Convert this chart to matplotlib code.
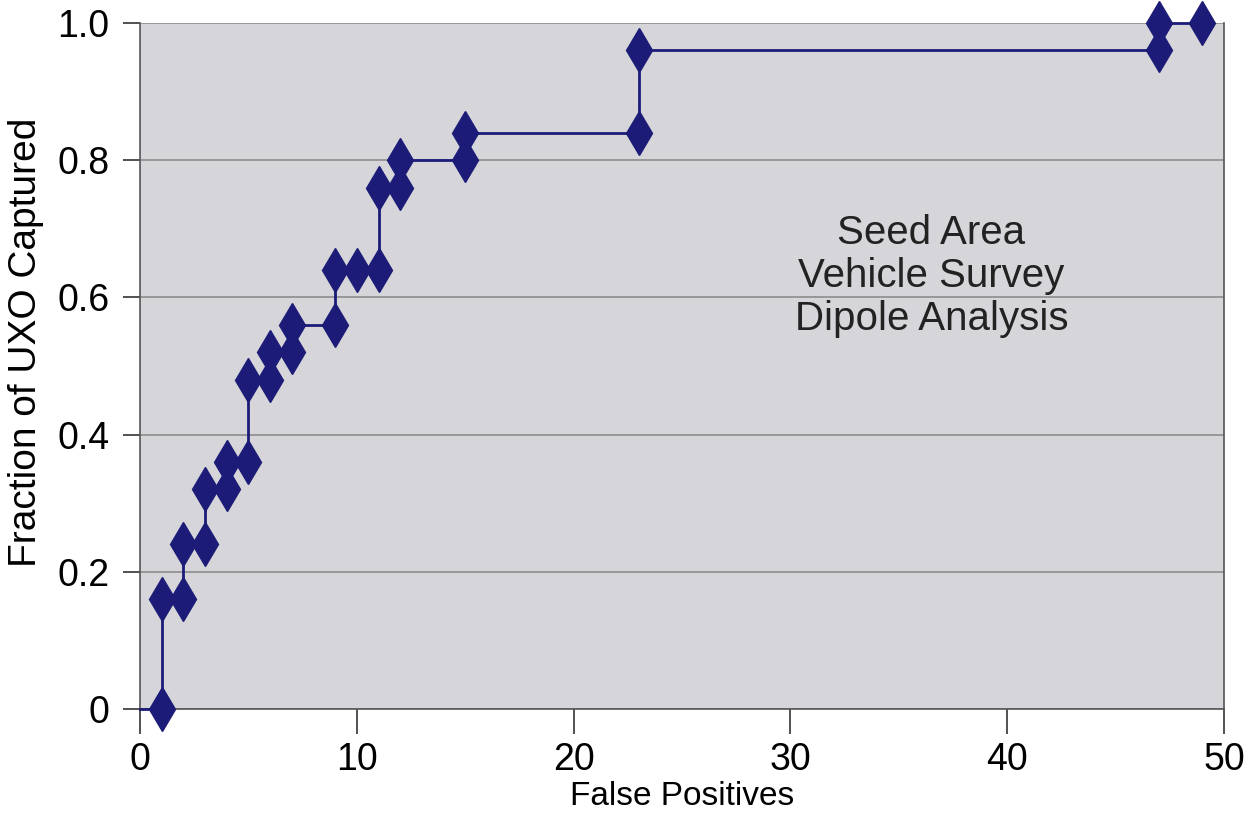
import matplotlib
matplotlib.use("Agg")
import matplotlib.pyplot as plt
from matplotlib import font_manager

# данные кривой (ложные срабатывания / доля найденных UXO)
false_pos = [0, 1, 1, 2, 2, 3, 3, 4, 4, 5, 5, 6, 6, 7, 7, 9, 9, 10, 11, 11, 12, 12, 15, 15, 23, 23, 47, 47, 49]
fraction = [0, 0, 0.16, 0.16, 0.24, 0.24, 0.32, 0.32, 0.36, 0.36, 0.48, 0.48, 0.52, 0.52, 0.56, 0.56, 0.64, 0.64,
            0.64, 0.76, 0.76, 0.80, 0.80, 0.84, 0.84, 0.96, 0.96, 1.0, 1.0]

x_ticks = [0, 10, 20, 30, 40, 50]
y_ticks = [0, 0.2, 0.4, 0.6, 0.8, 1.0]
y_tick_labels = ["0", "0.2", "0.4", "0.6", "0.8", "1.0"]
note = "Seed Area\nVehicle Survey\nDipole Analysis"

names = {f.name for f in font_manager.fontManager.ttflist}
narrow = "Liberation Sans Narrow" if "Liberation Sans Narrow" in names else "Liberation Sans"
plt.rcParams['font.family'] = ['Liberation Sans', 'DejaVu Sans']

fig = plt.figure(figsize=(12.49, 8.13), dpi=100)
ax = fig.add_axes([0.1121, 0.1279, 0.868, 0.8438])
ax.set_facecolor('#d6d6da')

ax.plot(false_pos[1:], fraction[1:], color='#1c1c78', lw=2, ls='none',
        marker='d', markersize=22, markeredgecolor='#1c1c78', zorder=3, clip_on=False)
ax.plot(false_pos, fraction, color='#1c1c78', lw=2, zorder=3, clip_on=False)

ax.set_xlim(0, 50)
ax.set_ylim(0, 1.0)
ax.set_xticks(x_ticks)
ax.set_yticks(y_ticks)
ax.set_yticklabels(y_tick_labels)
ax.yaxis.grid(True, color='#8c8c8c', lw=1.2)
ax.set_axisbelow(True)

for s in ['left', 'bottom', 'right']:
    ax.spines[s].set_color('#555555')
    ax.spines[s].set_linewidth(1.2)
ax.spines['top'].set_visible(False)

ax.tick_params(axis='y', length=12, width=1.2, color='#333333', labelsize=27, pad=10)
ax.tick_params(axis='x', length=18, width=1.2, color='#333333', labelsize=27, pad=6)
for lab in ax.get_xticklabels():
    lab.set_family([narrow, 'DejaVu Sans'])

ax.set_xlabel("False Positives", fontsize=24, labelpad=2, family=[narrow, 'DejaVu Sans'])
ax.set_ylabel("Fraction of UXO Captured", fontsize=28, family=[narrow, 'DejaVu Sans'])
ax.yaxis.set_label_coords(-0.089, 0.535)

ax.text(36.5, 0.631, note, fontsize=29, ha='center', va='center', linespacing=1.17, color='#222222')

fig.savefig("out.png", dpi=100, facecolor='white')
